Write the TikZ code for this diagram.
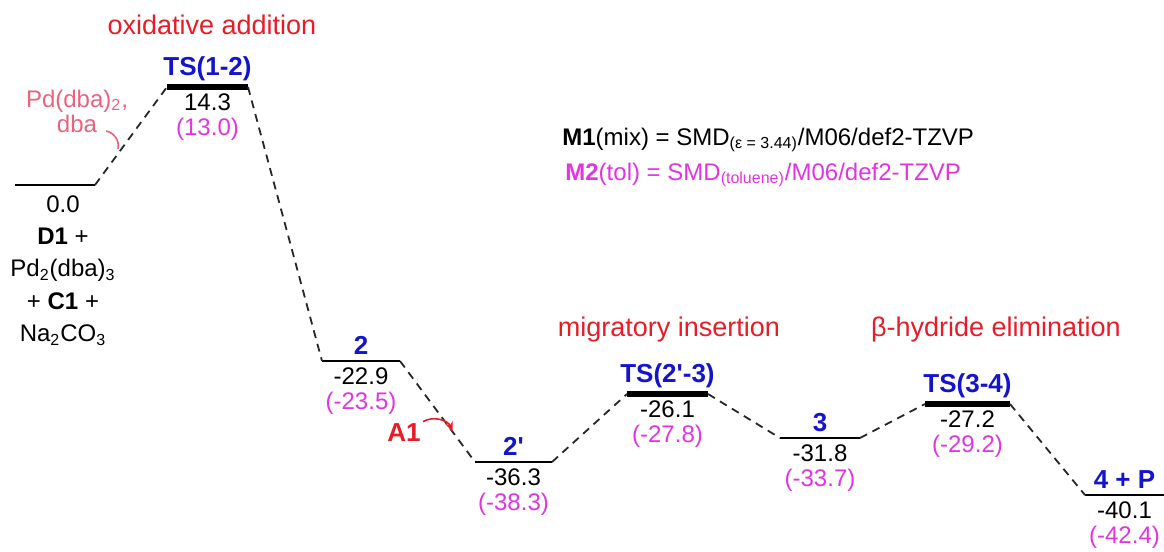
\documentclass[tikz,border=0pt]{standalone}
\usepackage{fontspec}
\setmainfont{Liberation Sans}
\usetikzlibrary{arrows.meta,positioning,calc}
\definecolor{tsblue}{RGB}{20,20,205}
\definecolor{stepred}{RGB}{232,28,36}
\definecolor{solvmag}{RGB}{226,52,226}
\definecolor{pdpink}{RGB}{236,98,122}

\begin{document}
\begin{tikzpicture}[
    x=0.5pt, y=-0.5pt,
    level/.style={line width=1pt},
    tslevel/.style={line width=2.6pt},
    conn/.style={dash pattern=on 4pt off 3pt, line width=0.9pt, black!85},
    species/.style={font=\fontsize{13}{13}\selectfont\bfseries, text=tsblue, inner sep=1pt},
    energy/.style={font=\fontsize{12}{12.5}\selectfont, align=center, inner sep=1pt},
    stage/.style={font=\fontsize{13.5}{14}\selectfont, text=stepred},
    legend/.style={font=\fontsize{12}{14}\selectfont, anchor=west, inner sep=0pt},
    >=Stealth]
  \useasboundingbox (0,0) rectangle (1164,552);

  % energy levels
  \coordinate (r0s) at (15,185);    \coordinate (r0e) at (95,185);
  \coordinate (t12s) at (167,87);   \coordinate (t12e) at (248,87);
  \coordinate (i2s) at (322,361);   \coordinate (i2e) at (400,361);
  \coordinate (i2ps) at (475,462);  \coordinate (i2pe) at (552,462);
  \coordinate (t23s) at (627,394);  \coordinate (t23e) at (708,394);
  \coordinate (i3s) at (780,438);   \coordinate (i3e) at (860,438);
  \coordinate (t34s) at (925,404);  \coordinate (t34e) at (1010,404);
  \coordinate (p4s) at (1085,495);  \coordinate (p4e) at (1164,495);

  \draw[level] (r0s) -- (r0e) coordinate[midway] (r0m);
  \draw[tslevel] (t12s) -- (t12e) coordinate[midway] (t12m);
  \draw[level] (i2s) -- (i2e) coordinate[midway] (i2m);
  \draw[level] (i2ps) -- (i2pe) coordinate[midway] (i2pm);
  \draw[tslevel] (t23s) -- (t23e) coordinate[midway] (t23m);
  \draw[level] (i3s) -- (i3e) coordinate[midway] (i3m);
  \draw[tslevel] (t34s) -- (t34e) coordinate[midway] (t34m);
  \draw[level] (p4s) -- (p4e) coordinate[midway] (p4m);

  % dashed connections
  \draw[conn] (r0e) -- (t12s);
  \draw[conn] (t12e) -- (i2s);
  \draw[conn] (i2e) -- (i2ps);
  \draw[conn] (i2pe) -- (t23s);
  \draw[conn] (t23e) -- (i3s);
  \draw[conn] (i3e) -- (t34s);
  \draw[conn] (t34e) -- (p4s);

  % species names
  \node[species, above=2pt of t12m] (t12lab) {TS(1-2)};
  \node[species, above=2pt of i2m] (i2lab) {2};
  \node[species, above=2pt of i2pm] (i2plab) {2\textquotesingle};
  \node[species, above=2pt of t23m] (t23lab) {TS(2\textquotesingle-3)};
  \node[species, above=2pt of i3m] (i3lab) {3};
  \node[species, above=2pt of t34m] (t34lab) {TS(3-4)};
  \node[species, above=2pt of p4m] (p4lab) {4 + P};

  % energies, M1 and (M2)
  \node[energy, below=2pt of t12m] (t12val) {14.3\\\textcolor{solvmag}{(13.0)}};
  \node[energy, below=2pt of i2m] (i2val) {-22.9\\\textcolor{solvmag}{(-23.5)}};
  \node[energy, below=2pt of i2pm] (i2pval) {-36.3\\\textcolor{solvmag}{(-38.3)}};
  \node[energy, below=2pt of t23m] (t23val) {-26.1\\\textcolor{solvmag}{(-27.8)}};
  \node[energy, below=2pt of i3m] (i3val) {-31.8\\\textcolor{solvmag}{(-33.7)}};
  \node[energy, below=2pt of t34m] (t34val) {-27.2\\\textcolor{solvmag}{(-29.2)}};
  \node[energy, below=2pt of p4m] (p4val) {-40.1\\\textcolor{solvmag}{(-42.4)}};
  \node[energy, below=4pt of r0m, xshift=4pt, font=\fontsize{12}{16.2}\selectfont] (r0val)
    {0.0\\\textbf{D1} +\\Pd\textsubscript{2}(dba)\textsubscript{3}\\+ \textbf{C1} +\\Na\textsubscript{2}CO\textsubscript{3}};

  % steps
  \node[stage] (oxadd) at (212,25) {oxidative addition};
  \node[stage] (migins) at (669,330) {migratory insertion};
  \node[stage] (betael) at (996,330) {β-hydride elimination};

  % additives
  \node[energy, text=pdpink] (pdlab) at (77,111) {Pd(dba)\textsubscript{2},\\dba};
  \coordinate (pdtail) at (106,131);
  \coordinate (pdtip) at (118,149);
  \draw[pdpink, line width=0.8pt] (pdtail) to[bend left=45] (pdtip);
  \node[font=\fontsize{13}{13}\selectfont\bfseries, text=stepred, inner sep=1pt] (a1) at (404,433) {A1};
  \coordinate (a1tip) at ($(i2e)!0.7!(i2ps)$);
  \draw[stepred, line width=0.8pt, -{Stealth[length=5pt,width=4pt]}] (a1.north east) to[bend left=50] (a1tip);

  % methods
  \node[legend] (m1) at (562,140) {\textbf{M1}(mix) = SMD\textsubscript{(ε = 3.44)}/M06/def2-TZVP};
  \node[legend, text=solvmag] (m2) at (565,175) {\textbf{M2}(tol) = SMD\textsubscript{(toluene)}/M06/def2-TZVP};
\end{tikzpicture}
\end{document}
